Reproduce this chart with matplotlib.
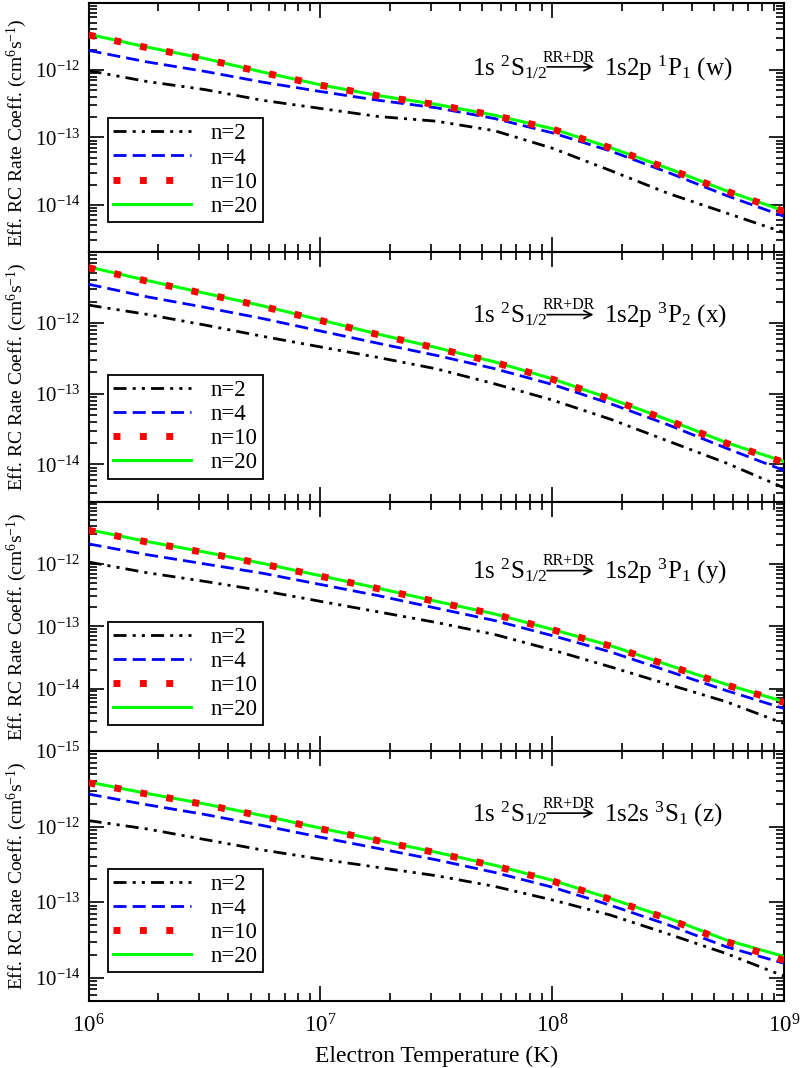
import matplotlib
matplotlib.use("Agg")
import matplotlib.pyplot as plt
from matplotlib.ticker import LogLocator, FixedLocator, NullFormatter, LogFormatterSciNotation

plt.rcParams['font.family'] = ['Liberation Serif', 'DejaVu Serif']
plt.rcParams['mathtext.fontset'] = 'custom'
plt.rcParams['mathtext.rm'] = 'Liberation Serif'
plt.rcParams['mathtext.it'] = 'Liberation Serif:italic'
plt.rcParams['mathtext.bf'] = 'Liberation Serif:bold'

# ---------------- data ----------------
temperature = [1.0e6, 1.778e6, 3.162e6, 5.623e6, 1.0e7, 1.778e7, 3.162e7,
               5.623e7, 1.0e8, 1.778e8, 3.162e8, 5.623e8, 1.0e9]

legend_labels = ["n=2", "n=4", "n=10", "n=20"]

# panel w : 1s2p 1P1
w_n2 = [9.77e-13, 6.76e-13, 5.13e-13, 3.55e-13, 2.69e-13, 2.04e-13, 1.74e-13,
        1.26e-13, 6.92e-14, 3.24e-14, 1.48e-14, 7.59e-15, 3.89e-15]
w_n4 = [1.95e-12, 1.32e-12, 9.55e-13, 6.61e-13, 4.79e-13, 3.55e-13, 2.75e-13,
        1.91e-13, 1.17e-13, 6.31e-14, 3.02e-14, 1.38e-14, 6.76e-15]
w_n10 = [3.30e-12, 2.15e-12, 1.46e-12, 9.20e-13, 5.95e-13, 4.12e-13, 3.06e-13,
         2.12e-13, 1.33e-13, 7.00e-14, 3.43e-14, 1.60e-14, 8.00e-15]
w_n20 = [3.39e-12, 2.19e-12, 1.48e-12, 9.33e-13, 6.03e-13, 4.17e-13, 3.09e-13,
         2.14e-13, 1.35e-13, 7.08e-14, 3.47e-14, 1.62e-14, 8.13e-15]

# panel x : 1s2p 3P2
x_n2 = [1.78e-12, 1.32e-12, 9.33e-13, 6.46e-13, 4.57e-13, 3.24e-13, 2.24e-13,
        1.38e-13, 8.13e-14, 4.37e-14, 2.14e-14, 1.05e-14, 4.68e-15]
x_n4 = [3.51e-12, 2.34e-12, 1.66e-12, 1.15e-12, 7.67e-13, 5.13e-13, 3.47e-13,
        2.26e-13, 1.35e-13, 7.24e-14, 3.63e-14, 1.70e-14, 8.22e-15]
x_n10 = [6.00e-12, 3.90e-12, 2.58e-12, 1.71e-12, 1.08e-12, 6.80e-13, 4.40e-13,
         2.78e-13, 1.60e-13, 8.40e-14, 4.20e-14, 2.00e-14, 1.07e-14]
x_n20 = [6.17e-12, 3.98e-12, 2.63e-12, 1.74e-12, 1.10e-12, 6.92e-13, 4.47e-13,
         2.82e-13, 1.62e-13, 8.51e-14, 4.27e-14, 2.04e-14, 1.10e-14]

# panel y : 1s2p 3P1
y_n2 = [1.07e-12, 7.24e-13, 5.25e-13, 3.72e-13, 2.51e-13, 1.70e-13, 1.15e-13,
        7.41e-14, 4.17e-14, 2.24e-14, 1.17e-14, 6.17e-15, 2.75e-15]
y_n4 = [2.09e-12, 1.41e-12, 1.00e-12, 7.08e-13, 4.68e-13, 3.09e-13, 1.95e-13,
        1.24e-13, 7.08e-14, 3.89e-14, 1.91e-14, 9.33e-15, 4.79e-15]
y_n10 = [3.45e-12, 2.25e-12, 1.52e-12, 1.00e-12, 6.35e-13, 4.00e-13, 2.47e-13,
         1.56e-13, 8.80e-14, 4.83e-14, 2.36e-14, 1.15e-14, 6.00e-15]
y_n20 = [3.55e-12, 2.29e-12, 1.55e-12, 1.02e-12, 6.46e-13, 4.07e-13, 2.51e-13,
         1.58e-13, 8.91e-14, 4.90e-14, 2.40e-14, 1.17e-14, 6.17e-15]

# panel z : 1s2s 3S1
z_n2 = [1.20e-12, 9.33e-13, 6.76e-13, 4.90e-13, 3.72e-13, 2.88e-13, 2.24e-13,
        1.62e-13, 1.07e-13, 6.76e-14, 3.80e-14, 2.09e-14, 1.05e-14]
z_n4 = [2.69e-12, 1.95e-12, 1.45e-12, 1.035e-12, 7.24e-13, 5.13e-13, 3.63e-13,
        2.48e-13, 1.58e-13, 9.12e-14, 5.01e-14, 2.57e-14, 1.55e-14]
z_n10 = [3.80e-12, 2.70e-12, 1.96e-12, 1.37e-12, 9.35e-13, 6.50e-13, 4.50e-13,
         3.03e-13, 1.91e-13, 1.09e-13, 6.00e-14, 3.02e-14, 1.70e-14]
z_n20 = [3.89e-12, 2.75e-12, 2.00e-12, 1.40e-12, 9.55e-13, 6.61e-13, 4.57e-13,
         3.09e-13, 1.95e-13, 1.12e-13, 6.17e-14, 3.16e-14, 1.91e-14]

lower_level = r"1s $^{2}$S$_{1/2}$"
upper_levels = [r"1s2p $^{1}$P$_{1}$ (w)", r"1s2p $^{3}$P$_{2}$ (x)",
                r"1s2p $^{3}$P$_{1}$ (y)", r"1s2s $^{3}$S$_{1}$ (z)"]
process_label = "RR+DR"
ylabel = r"Eff. RC Rate Coeff. (cm$^{6}$s$^{-1}$)"
xlabel = "Electron Temperature (K)"

panels = [
    (w_n2, w_n4, w_n10, w_n20),
    (x_n2, x_n4, x_n10, x_n20),
    (y_n2, y_n4, y_n10, y_n20),
    (z_n2, z_n4, z_n10, z_n20),
]
ylims = [(2e-15, 1e-11), (3e-15, 1e-11), (1e-15, 1e-11), (5e-15, 1e-11)]
yticks_major = [1e-15, 1e-14, 1e-13, 1e-12]

# ---------------- styles ----------------
styles = [
    dict(color='black', lw=2.0, linestyle=(0, (4.7, 2.2, 1.1, 2.2, 1.1, 2.2)), zorder=2),
    dict(color='#0000ff', lw=2.0, linestyle=(0, (4.7, 2.2)), zorder=3),
    dict(color='#ff0000', lw=5.0, linestyle=(0, (1, 2.8)), zorder=5),
    dict(color='#00ff00', lw=2.2, linestyle='-', zorder=4),
]
legend_bottoms = [0.121, 0.092, 0.103, 0.113]
text_baselines = [0.709, 0.716, 0.690, 0.718]
ylabel_centers = [0.48, 0.5, 0.5, 0.5]

fig = plt.figure(figsize=(8.03, 10.68), dpi=100)
left, width = 0.1103, 0.8662
height = 0.23361
bottoms = [0.76403, 0.53042, 0.29681, 0.06320]

for i, series in enumerate(panels):
    ax = fig.add_axes([left, bottoms[i], width, height])
    handles = []
    for s, lab, st in zip(series, legend_labels, styles):
        h, = ax.plot(temperature, s, label=lab, **st)
        handles.append(h)
    ax.set_xscale('log')
    ax.set_yscale('log')
    ax.set_xlim(1e6, 1e9)
    ax.set_ylim(*ylims[i])
    ax.yaxis.set_major_locator(FixedLocator(yticks_major))
    ax.yaxis.set_major_formatter(LogFormatterSciNotation())
    ax.yaxis.set_minor_locator(LogLocator(base=10, subs=range(2, 10), numticks=100))
    ax.yaxis.set_minor_formatter(NullFormatter())
    ax.xaxis.set_major_locator(LogLocator(base=10, numticks=10))
    ax.xaxis.set_minor_locator(LogLocator(base=10, subs=range(2, 10), numticks=100))
    ax.xaxis.set_minor_formatter(NullFormatter())
    ax.tick_params(which='both', direction='in', top=True, right=True, width=1.2)
    ax.tick_params(which='major', length=11)
    ax.tick_params(which='minor', length=5.5)
    ax.tick_params(axis='y', which='major', labelsize=15, pad=6)
    ax.tick_params(axis='x', which='major', labelsize=16.5, pad=10)
    for sp in ax.spines.values():
        sp.set_linewidth(1.5)
    if i < 3:
        ax.tick_params(axis='x', labelbottom=False)
    else:
        ax.set_xlabel(xlabel, fontsize=17, labelpad=6)
    ax.set_ylabel(ylabel, fontsize=14)
    ax.yaxis.set_label_coords(-0.086, ylabel_centers[i])

    leg = ax.legend(handles, legend_labels,
                    loc='lower left', bbox_to_anchor=(0.028, legend_bottoms[i]),
                    borderaxespad=0, fontsize=16.5, frameon=True, fancybox=False,
                    edgecolor='black', framealpha=1, handlelength=3.4,
                    handletextpad=0.85, labelspacing=0.13, borderpad=0.23)
    leg.get_frame().set_linewidth(1.3)
    leg.set_zorder(10)

    yb = text_baselines[i]
    ax.text(0.551, yb, lower_level, transform=ax.transAxes, fontsize=18,
            ha='left', va='baseline')
    ax.annotate('', xy=(0.726, yb + 0.033), xytext=(0.659, yb + 0.033),
                xycoords='axes fraction', textcoords='axes fraction',
                arrowprops=dict(arrowstyle='->', lw=1.2, color='black',
                                shrinkA=0, shrinkB=0, mutation_scale=14))
    ax.text(0.691, yb + 0.054, process_label, transform=ax.transAxes,
            fontsize=11.5, ha='center', va='baseline')
    ax.text(0.741, yb, upper_levels[i], transform=ax.transAxes, fontsize=18,
            ha='left', va='baseline')

fig.savefig('out.png', dpi=100)
